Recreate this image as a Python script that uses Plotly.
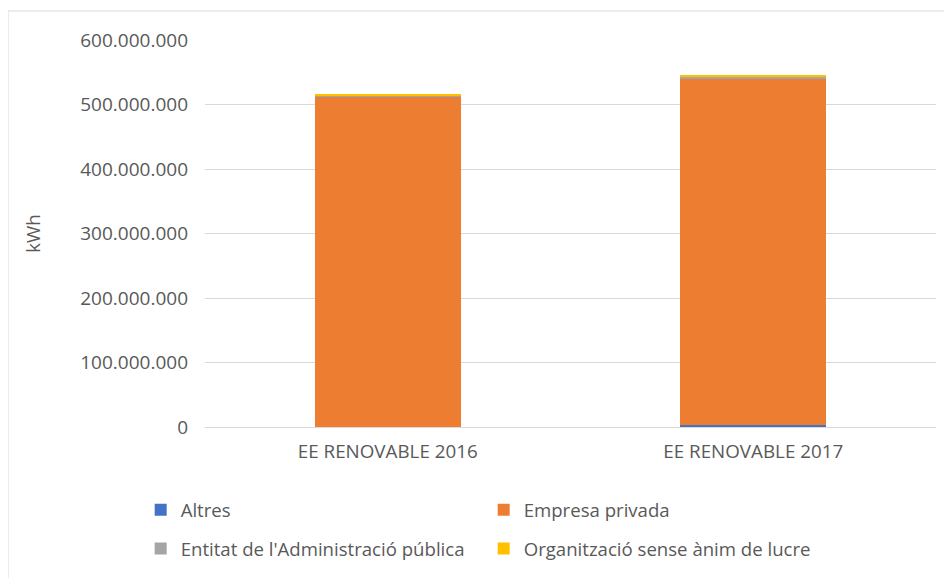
"""
Energia elèctrica renovable per tipus d'entitat (kWh)
"""
import plotly.graph_objects as go

categories = ["EE RENOVABLE 2016", "EE RENOVABLE 2017"]
altres = [300000, 3500000]
empresa_privada = [512000000, 537000000]
administracio_publica = [500000, 3000000]
sense_anim_lucre = [3500000, 2700000]

series = [
    ("Altres", altres, "#4472C4", "legend"),
    ("Empresa privada", empresa_privada, "#ED7D31", "legend"),
    ("Entitat de l'Administració pública", administracio_publica, "#A5A5A5", "legend2"),
    ("Organització sense ànim de lucre", sense_anim_lucre, "#FFC000", "legend2"),
]

FONT = "Open Sans"
GREY = "#595959"
BORDER = "#D9D9D9"

fig = go.Figure()
for name, values, color, leg in series:
    fig.add_trace(
        go.Bar(
            x=categories,
            y=values,
            name=name,
            marker=dict(color=color, line=dict(width=0)),
            legend=leg,
        )
    )

legend_style = dict(
    orientation="h",
    traceorder="normal",
    xanchor="left",
    yanchor="middle",
    entrywidth=298,
    entrywidthmode="pixels",
    itemwidth=30,
    font=dict(family=FONT, size=18.6, color=GREY),
    bgcolor="rgba(0,0,0,0)",
)

fig.update_layout(
    barmode="stack",
    bargap=0.6,
    width=952,
    height=578,
    margin=dict(l=197, r=24, t=32, b=159),
    paper_bgcolor="white",
    plot_bgcolor="white",
    font=dict(family=FONT, color=GREY),
    separators=",.",
    legend=dict(x=-0.088, y=-0.215, **legend_style),
    legend2=dict(x=-0.088, y=-0.315, **legend_style),
    xaxis=dict(
        showline=True,
        linecolor=BORDER,
        linewidth=1,
        tickfont=dict(family=FONT, size=18.8, color=GREY),
        ticks="",
        ticklabelstandoff=7,
    ),
    yaxis=dict(
        range=[0, 600000000],
        dtick=100000000,
        tickformat=",d",
        gridcolor=BORDER,
        gridwidth=1,
        zeroline=False,
        tickfont=dict(family=FONT, size=19, color=GREY),
        ticklabelstandoff=16,
        title=dict(text="kWh", font=dict(family=FONT, size=18.6, color=GREY), standoff=34),
    ),
)

# marc del gràfic (només vores superior i esquerra visibles)
fig.add_shape(
    type="line", xref="paper", yref="paper",
    x0=-0.2695, x1=1.2, y0=1.075, y1=1.075,
    line=dict(color=BORDER, width=1), layer="below",
)
fig.add_shape(
    type="line", xref="paper", yref="paper",
    x0=-0.2695, x1=-0.2695, y0=-0.6, y1=1.075,
    line=dict(color=BORDER, width=1), layer="below",
)

fig.write_html("out.html")
